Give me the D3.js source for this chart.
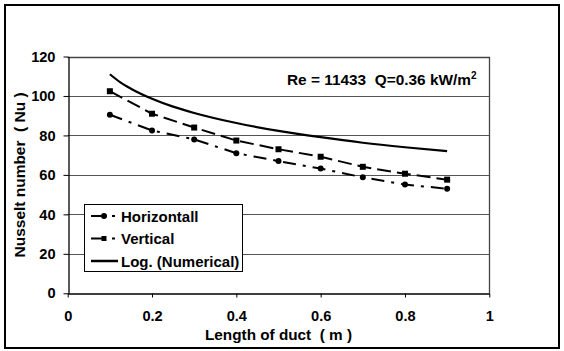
<!DOCTYPE html>
<html>
<head>
<meta charset="utf-8">
<script src="https://cdn.jsdelivr.net/npm/d3@7"></script>
<style>
  html, body { margin: 0; padding: 0; background: #fff; }
  svg { display: block; font-family: "Liberation Sans", Arial, sans-serif; font-weight: bold; }
  svg text { white-space: pre; }
</style>
</head>
<body>
<svg id="chart" width="564" height="351"></svg>
<script>
// ---- data ----
const lengths = [0.1, 0.2, 0.3, 0.4, 0.5, 0.6, 0.7, 0.8, 0.9];
const horizontalNu = [90.5, 82.5, 78, 71, 67, 63.2, 58.8, 55.1, 53];
const verticalNu = [102.4, 91, 84, 77.4, 73, 69.2, 64.1, 60.6, 57.6];
const numericalX = [0.1, 0.125, 0.15, 0.2, 0.25, 0.3, 0.4, 0.5, 0.6, 0.7, 0.8, 0.9];
const numericalNu = [111.0, 106.9, 103.7, 98.6, 94.6, 91.4, 86.3, 82.3, 79.1, 76.3, 74.0, 72.0];
const xTicks = [0, 0.2, 0.4, 0.6, 0.8, 1];
const xTickLabels = ["0", "0.2", "0.4", "0.6", "0.8", "1"];
const yTicks = [0, 20, 40, 60, 80, 100, 120];
const seriesNames = ["Horizontall", "Vertical", "Log. (Numerical)"];

const svg = d3.select("#chart");
const pLeft = 67.7, pRight = 489.3, pTop = 56.5, pBottom = 293.3;
const x = d3.scaleLinear().domain([0, 1]).range([pLeft, pRight]);
const y = d3.scaleLinear().domain([0, 120]).range([pBottom, pTop]);

// outer frame
svg.append("rect").attr("x", 5).attr("y", 5).attr("width", 554).attr("height", 343)
  .attr("fill", "none").attr("stroke", "#000").attr("stroke-width", 2);

// gridlines
svg.append("g").selectAll("line").data(yTicks.filter(d => d > 0 && d < 120)).join("line")
  .attr("x1", pLeft).attr("x2", pRight)
  .attr("y1", d => Math.round(y(d)) + 0.5).attr("y2", d => Math.round(y(d)) + 0.5)
  .attr("stroke", "#555").attr("stroke-width", 1);

// plot border (top/right)
svg.append("path")
  .attr("d", `M${pLeft},${Math.round(pTop)+0.5} H${Math.round(pRight)+0.5} V${pBottom}`)
  .attr("fill", "none").attr("stroke", "#444").attr("stroke-width", 1.3);

// axes
const yAxis = svg.append("g").attr("transform", `translate(${Math.round(pLeft)+0.5},0)`)
  .call(d3.axisLeft(y).tickValues(yTicks).tickSize(5).tickPadding(8).tickSizeOuter(0));
const xAxis = svg.append("g").attr("transform", `translate(0,${Math.round(pBottom)+0.5})`)
  .call(d3.axisBottom(x).tickValues(xTicks).tickFormat((d, i) => xTickLabels[i]).tickSize(4).tickPadding(13).tickSizeOuter(0));
[yAxis, xAxis].forEach(g => {
  g.select(".domain").attr("stroke", "#000").attr("stroke-width", 1.3);
  g.selectAll(".tick line").attr("stroke", "#000");
  g.selectAll("text").attr("fill", "#000").attr("font-size", 14.6).attr("font-weight", "bold")
    .attr("font-family", '"Liberation Sans", Arial, sans-serif');
});

// series
const lineGen = d3.line().x(d => x(d[0])).y(d => y(d[1]));
const numPts = numericalX.map((v, i) => [v, numericalNu[i]]);
svg.append("path").datum(numPts)
  .attr("d", lineGen.curve(d3.curveMonotoneX))
  .attr("fill", "none").attr("stroke", "#000").attr("stroke-width", 2.2);

const vPts = lengths.map((v, i) => [v, verticalNu[i]]);
const hPts = lengths.map((v, i) => [v, horizontalNu[i]]);
const straight = d3.line().x(d => x(d[0])).y(d => y(d[1]));
svg.append("path").datum(vPts).attr("d", straight)
  .attr("fill", "none").attr("stroke", "#000").attr("stroke-width", 2).attr("stroke-dasharray", "14,6");
svg.append("path").datum(hPts).attr("d", straight)
  .attr("fill", "none").attr("stroke", "#000").attr("stroke-width", 2).attr("stroke-dasharray", "13,7,3,7");

svg.append("g").selectAll("rect").data(vPts).join("rect")
  .attr("x", d => x(d[0]) - 3).attr("y", d => y(d[1]) - 3).attr("width", 6).attr("height", 6).attr("fill", "#000");
svg.append("g").selectAll("circle").data(hPts).join("circle")
  .attr("cx", d => x(d[0])).attr("cy", d => y(d[1])).attr("r", 3).attr("fill", "#000");

// annotation
const ann = svg.append("text").attr("x", 287).attr("y", 85).attr("font-size", 15).attr("fill", "#000")
  .attr("xml:space", "preserve");
ann.append("tspan").attr("textLength", 184).attr("lengthAdjust", "spacingAndGlyphs").text("Re = 11433  Q=0.36 kW/m");
ann.append("tspan").attr("dy", -6).attr("font-size", 10).text("2");

// legend
const lg = svg.append("g");
lg.append("rect").attr("x", 84.5).attr("y", 204.5).attr("width", 158).attr("height", 67)
  .attr("fill", "#fff").attr("stroke", "#000").attr("stroke-width", 1);
const rowsY = [216, 238.5, 261];
rowsY.forEach((ry, i) => {
  const ln = lg.append("line").attr("x1", 91).attr("x2", 118).attr("y1", ry).attr("y2", ry)
    .attr("stroke", "#000").attr("stroke-width", i === 2 ? 2.5 : 2);
  if (i < 2) ln.attr("stroke-dasharray", "12,2,1,6,3,20");
  if (i === 0) lg.append("circle").attr("cx", 104).attr("cy", ry).attr("r", 3).attr("fill", "#000");
  if (i === 1) lg.append("rect").attr("x", 101.5).attr("y", ry - 2.5).attr("width", 5).attr("height", 5).attr("fill", "#000");
  lg.append("text").attr("x", 121).attr("y", ry + 5.5).attr("font-size", 15).attr("fill", "#000").text(seriesNames[i]);
});

// axis titles
svg.append("text").attr("x", (pLeft + pRight) / 2).attr("y", 340).attr("text-anchor", "middle")
  .attr("xml:space", "preserve").attr("font-size", 15).attr("fill", "#000")
  .attr("textLength", 147).attr("lengthAdjust", "spacingAndGlyphs").text("Length of duct  ( m )");
svg.append("text").attr("transform", `translate(25,${(pTop + pBottom) / 2}) rotate(-90)`)
  .attr("xml:space", "preserve").attr("text-anchor", "middle").attr("font-size", 15).attr("fill", "#000")
  .attr("textLength", 165).attr("lengthAdjust", "spacingAndGlyphs").text("Nusselt number  ( Nu )");
</script>
</body>
</html>
